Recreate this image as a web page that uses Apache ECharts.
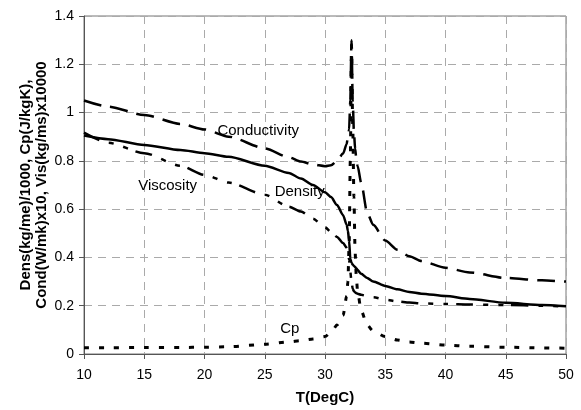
<!DOCTYPE html>
<html>
<head>
<meta charset="utf-8">
<script src="https://cdn.jsdelivr.net/npm/echarts@6/dist/echarts.min.js"></script>
<style>
  html, body { margin: 0; padding: 0; background: #fff; }
  #chart { width: 581px; height: 410px; }
</style>
</head>
<body>
<div id="chart"></div>
<script>
// temperature (DegC), shared by all four curves
var temps = [10, 12, 15, 18, 20, 22, 25, 27, 28, 29, 30, 30.5, 31, 31.5, 31.8, 31.9, 32, 32.1, 32.2, 32.3, 32.4, 32.5, 32.6, 32.7, 33, 33.5, 34, 35, 36, 37, 38, 40, 42, 45, 48, 50];

var density = [0.905, 0.89, 0.866, 0.845, 0.832, 0.817, 0.78, 0.75, 0.727, 0.70, 0.67, 0.65, 0.617, 0.575, 0.535, 0.51, 0.47, 0.395, 0.378, 0.37, 0.365, 0.36, 0.355, 0.348, 0.332, 0.315, 0.30, 0.282, 0.268, 0.257, 0.25, 0.24, 0.228, 0.212, 0.203, 0.198];

var conductivity = [1.05, 1.025, 0.99, 0.953, 0.93, 0.90, 0.852, 0.815, 0.797, 0.785, 0.778, 0.782, 0.80, 0.83, 0.87, 0.9, 0.93, 1.05, 1.3, 1.05, 0.92, 0.85, 0.81, 0.78, 0.71, 0.585, 0.535, 0.47, 0.432, 0.405, 0.385, 0.357, 0.338, 0.315, 0.305, 0.30];

var viscosity = [0.917, 0.875, 0.832, 0.78, 0.742, 0.71, 0.66, 0.61, 0.59, 0.56, 0.525, 0.505, 0.485, 0.46, 0.44, 0.42, 0.39, 0.34, 0.30, 0.27, 0.26, 0.255, 0.252, 0.25, 0.245, 0.24, 0.235, 0.225, 0.218, 0.213, 0.21, 0.207, 0.205, 0.203, 0.2, 0.197];

var cp = [0.026, 0.026, 0.027, 0.027, 0.028, 0.03, 0.04, 0.05, 0.055, 0.062, 0.072, 0.09, 0.12, 0.16, 0.24, 0.3, 0.45, 0.8, 1.28, 0.95, 0.65, 0.42, 0.32, 0.26, 0.18, 0.12, 0.095, 0.072, 0.058, 0.05, 0.045, 0.037, 0.032, 0.028, 0.025, 0.024];

var xTicks = [10, 15, 20, 25, 30, 35, 40, 45, 50];

function pairs(ys) {
  var out = [];
  for (var i = 0; i < temps.length; i++) out.push([temps[i], ys[i]]);
  return out;
}

var font = "'Liberation Sans', Arial, sans-serif";

function note(text, x, y) {
  return {
    symbol: 'rect',
    symbolSize: 1,
    silent: true,
    itemStyle: { color: 'transparent' },
    label: { show: true, position: 'inside', color: '#000', fontFamily: font, fontSize: 15 },
    data: [{ coord: [x, y], value: text }]
  };
}

function curve(name, ys, dash, width, label) {
  return {
    name: name,
    type: 'line',
    data: pairs(ys),
    symbol: 'none',
    smooth: 0.25,
    smoothMonotone: 'x',
    animation: false,
    lineStyle: { color: '#000', width: width, type: dash },
    markPoint: label
  };
}

var myChart = echarts.init(document.getElementById('chart'));
var option = {
  backgroundColor: '#fff',
  animation: false,
  grid: {
    left: 84, right: 15, top: 16, bottom: 55,
    show: true, borderColor: '#777', borderWidth: 1
  },
  xAxis: {
    type: 'value',
    min: 10, max: 50, interval: 5,
    name: 'T(DegC)',
    nameLocation: 'middle',
    nameGap: 36,
    nameMoveOverlap: false,
    nameTextStyle: { color: '#000', fontFamily: font, fontSize: 15, fontWeight: 'bold' },
    axisLine: { show: true, lineStyle: { color: '#555', width: 1 } },
    axisTick: { show: true, length: 5, lineStyle: { color: '#555' } },
    axisLabel: {
      color: '#000', fontFamily: font, fontSize: 14, margin: 14,
      formatter: function (v) { return xTicks.indexOf(v) >= 0 ? String(v) : ''; }
    },
    splitLine: { show: true, lineStyle: { color: '#aaa', type: [8, 6], width: 1 } }
  },
  yAxis: {
    type: 'value',
    min: 0, max: 1.4, interval: 0.2,
    name: 'Dens(kg/me)/1000, Cp(J/kgK),\nCond(W/mk)x10, Vis(kg/ms)x10000',
    nameLocation: 'middle',
    nameRotate: 90,
    nameGap: 34,
    nameMoveOverlap: false,
    nameTextStyle: { color: '#000', fontFamily: font, fontSize: 15, fontWeight: 'bold', lineHeight: 16, align: 'center' },
    axisLine: { show: true, lineStyle: { color: '#555', width: 1 } },
    axisTick: { show: true, length: 5, lineStyle: { color: '#555' } },
    axisLabel: {
      color: '#000', fontFamily: font, fontSize: 14, margin: 10,
      formatter: function (v) { return String(Math.round(v * 10) / 10); }
    },
    splitLine: { show: true, lineStyle: { color: '#aaa', type: [8, 6], width: 1 } }
  },
  series: [
    curve('Density', density, 'solid', 2.5, note('Density', 27.9, 0.671)),
    curve('Conductivity', conductivity, [18, 9], 2.5, note('Conductivity', 24.46, 0.924)),
    curve('Viscosity', viscosity, [17, 10, 5, 10, 5, 8], 2.5, note('Viscosity', 16.94, 0.697)),
    curve('Cp', cp, [5, 10], 3, note('Cp', 27.08, 0.106))
  ]
};
myChart.setOption(option);
window.addEventListener('resize', function () { myChart.resize(); });
</script>
</body>
</html>
